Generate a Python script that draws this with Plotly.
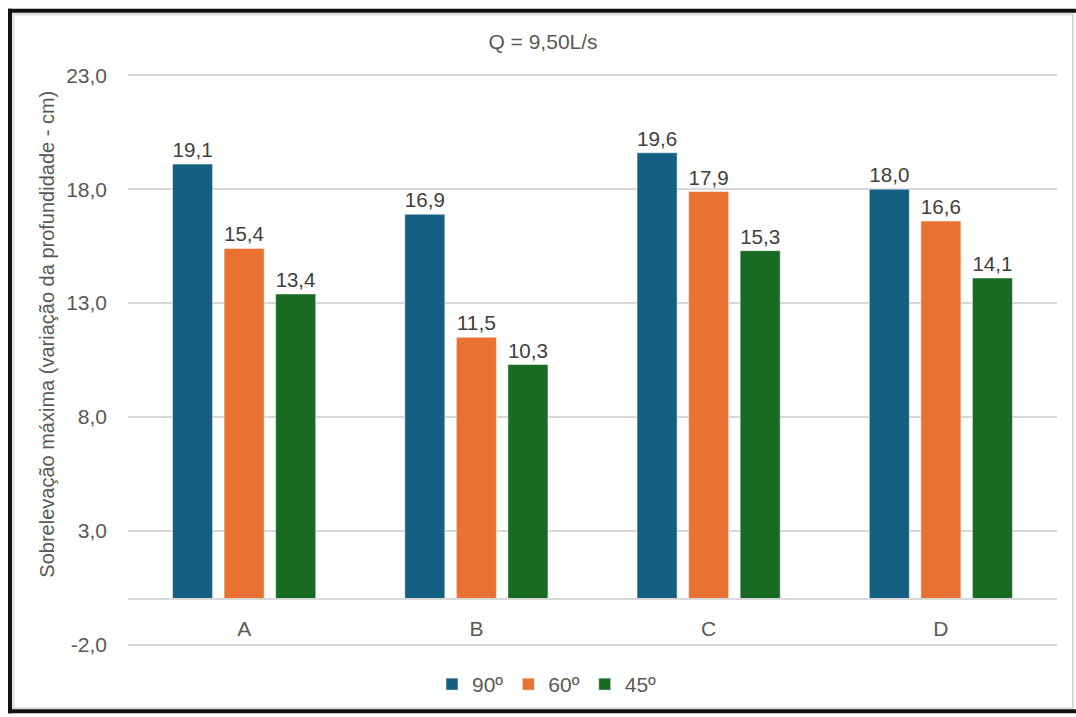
import plotly.graph_objects as go

# Sobrelevação máxima por seção e ângulo, vazão Q = 9,50 L/s
categorias = ["A", "B", "C", "D"]
serie_90 = [19.1, 16.9, 19.6, 18.0]
serie_60 = [15.4, 11.5, 17.9, 16.6]
serie_45 = [13.4, 10.3, 15.3, 14.1]
nomes = ["90º", "60º", "45º"]
cores = ["#156082", "#E97132", "#196B24"]

y_min, y_max = -2.0, 23.0
y_ticks = [-2.0, 3.0, 8.0, 13.0, 18.0, 23.0]
y_ticktext = [f"{v:.1f}".replace(".", ",") for v in y_ticks]
titulo_y = "Sobrelevação máxima (variação da profundidade - cm)"

W, H = 1076, 717
pad = 0.1                      # folga nas pontas do eixo y para manter as linhas de grade extremas
px_por_unidade = 573 / (y_max - y_min)
L, R = 128, 19
T = 75 - pad * px_por_unidade
B = 69 - pad * px_por_unidade
plot_w = W - L - R
plot_h = H - T - B

fonte = "Liberation Sans, Arial, sans-serif"
cinza = "#595959"
grade = "#D9D9D9"
tam = 21

fig = go.Figure()
for nome, valores, cor in zip(nomes, [serie_90, serie_60, serie_45], cores):
    fig.add_trace(go.Bar(
        x=categorias, y=valores, name=nome,
        marker=dict(color=cor, line=dict(color="rgba(255,255,255,0.5)", width=1)),
        texttemplate="%{y:.1f}", textposition="outside",
        textfont=dict(family=fonte, size=tam, color="#404040"),
        cliponaxis=False,
    ))


def px_x(p):
    return (p - L) / plot_w


def px_y(p):
    return (H - B - p) / plot_h


# moldura externa (preta) e interna (cinza claro)
moldura = [
    dict(x0=px_x(10), x1=px_x(10), y0=px_y(8), y1=px_y(717), color="#111111", width=4),
    dict(x0=px_x(8), x1=px_x(1076), y0=px_y(10), y1=px_y(10), color="#111111", width=4),
    dict(x0=px_x(8), x1=px_x(1076), y0=px_y(715), y1=px_y(715), color="#111111", width=4),
]
shapes = [
    dict(type="line", xref="paper", yref="paper", x0=m["x0"], x1=m["x1"], y0=m["y0"], y1=m["y1"],
         line=dict(color=m["color"], width=m["width"]), layer="above")
    for m in moldura
]
shapes.append(dict(type="rect", xref="paper", yref="paper",
                   x0=px_x(13.5), x1=px_x(1073), y0=px_y(13.5), y1=px_y(712),
                   line=dict(color=grade, width=2), layer="below"))

fig.update_layout(
    width=W, height=H,
    margin=dict(l=L, r=R, t=T, b=B),
    paper_bgcolor="white", plot_bgcolor="white",
    separators=",.",
    font=dict(family=fonte, size=tam, color=cinza),
    title=dict(text="Q = 9,50L/s", x=543 / W, xref="container", xanchor="center",
               y=1 - 42 / H, yref="container", yanchor="middle",
               font=dict(family=fonte, size=tam, color=cinza)),
    barmode="group", bargap=0.334, bargroupgap=0.223,
    showlegend=True,
    legend=dict(orientation="h", x=px_x(547), xanchor="center", y=px_y(688), yanchor="middle",
                font=dict(family=fonte, size=tam, color=cinza), itemwidth=30,
                traceorder="normal", bgcolor="rgba(0,0,0,0)"),
    shapes=shapes,
    annotations=[dict(text=titulo_y, textangle=-90, xref="paper", yref="paper",
                      x=px_x(47), y=px_y(336), xanchor="center", yanchor="middle",
                      showarrow=False, font=dict(family=fonte, size=20, color=cinza))],
)

fig.update_xaxes(
    type="category", anchor="free", position=(0 - y_min + pad) / (y_max - y_min + 2 * pad),
    showline=True, linecolor=grade, linewidth=1.5,
    ticks="", showgrid=False, ticklabelstandoff=11,
    tickfont=dict(family=fonte, size=tam, color=cinza),
)
fig.update_yaxes(
    range=[y_min - pad, y_max + pad], tickvals=y_ticks, ticktext=y_ticktext,
    showgrid=True, gridcolor=grade, gridwidth=1.5, zeroline=False, showline=False,
    ticks="", ticklabelstandoff=20,
    tickfont=dict(family=fonte, size=tam, color=cinza),
)

fig.write_html("out.html")
